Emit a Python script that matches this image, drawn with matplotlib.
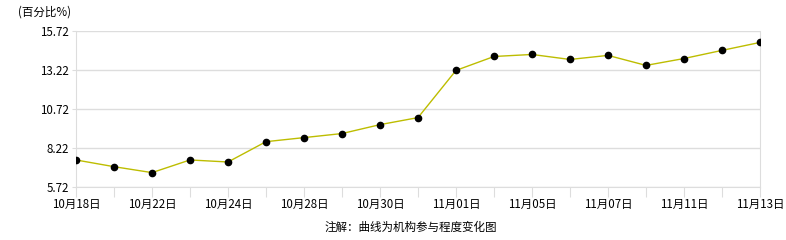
import matplotlib
matplotlib.use('Agg')
import matplotlib.pyplot as plt

plt.rcParams['font.family'] = ['Noto Sans CJK SC', 'DejaVu Sans']

# Datos
fechas = ['10月18日', '', '10月22日', '', '10月24日', '', '10月28日', '', '10月30日', '',
          '11月01日', '', '11月05日', '', '11月07日', '', '11月11日', '', '11月13日']
valores = [7.45, 7.02, 6.64, 7.45, 7.32, 8.62, 8.88, 9.14, 9.71, 10.16,
           13.18, 14.07, 14.20, 13.88, 14.14, 13.50, 13.94, 14.46, 14.97]
yticks = [5.72, 8.22, 10.72, 13.22, 15.72]

fig = plt.figure(figsize=(7.86, 2.4), dpi=100)
ax = fig.add_axes([76 / 786, 53 / 240, 684 / 786, 156.3 / 240])

x = list(range(len(valores)))
ax.plot(x, valores, color='#bdbd00', linewidth=1, marker='o', markersize=4.5,
        markerfacecolor='black', markeredgecolor='black', zorder=3)

ax.set_xlim(0, len(valores) - 1)
ax.set_ylim(5.72, 15.72)
ax.set_yticks(yticks)
ax.set_yticklabels([f'{v:.2f}' for v in yticks], fontsize=8.3)
ax.set_xticks(x)
ax.set_xticklabels(fechas, fontsize=8.3)

ax.grid(axis='y', color='#dddddd', linewidth=1)
ax.set_axisbelow(True)
for lado in ['left', 'right', 'bottom', 'top']:
    ax.spines[lado].set_color('#dddddd')
ax.spines['top'].set_visible(False)
ax.tick_params(axis='x', length=7, color='#dddddd', pad=1)
ax.tick_params(axis='y', length=3, color='#dddddd', pad=2)

fig.text(18 / 786, 1 - 12 / 240, '(百分比%)', fontsize=8.3, va='center', ha='left')
fig.text(411 / 786, 1 - 227 / 240, '注解：曲线为机构参与程度变化图', fontsize=8.3,
         va='center', ha='center')

fig.savefig('out.png', dpi=100)
